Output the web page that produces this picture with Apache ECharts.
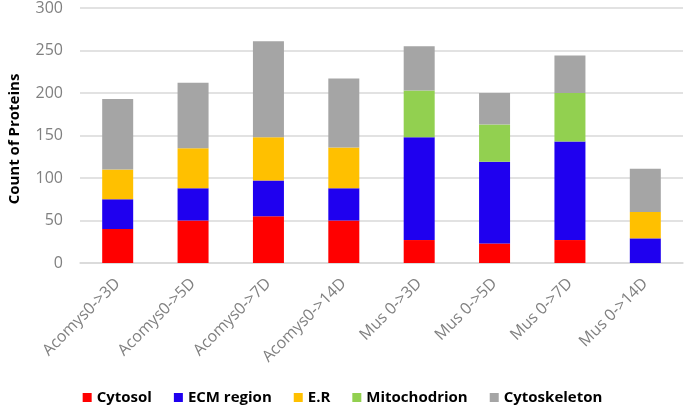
<!DOCTYPE html>
<html><head><meta charset="utf-8">
<script src="https://cdn.jsdelivr.net/npm/echarts@6/dist/echarts.min.js"></script>
<style>html,body{margin:0;padding:0;background:#fff}#c{width:685px;height:413px}</style>
</head><body><div id="c"></div>
<script>
const categories = ['Acomys0->3D','Acomys0->5D','Acomys0->7D','Acomys0->14D','Mus 0->3D','Mus 0->5D','Mus 0->7D','Mus 0->14D'];
const cytosol = [40,50,55,50,27,23,27,0];
const ecm = [35,38,42,38,121,96,116,29];
const er = [35,47,51,48,0,0,0,31];
const mito = [0,0,0,0,55,44,57,0];
const cytoskeleton = [83,77,113,81,52,37,44,51];
const yTicks = [0,50,100,150,200,250,300];

const names = ['Cytosol','ECM region','E.R','Mitochodrion','Cytoskeleton'];
const colors = ['#ff0000','#1f00ef','#ffc000','#92d050','#a5a5a5'];
const datas = [cytosol, ecm, er, mito, cytoskeleton];
const font = 'Open Sans';

const chart = echarts.init(document.getElementById('c'));
chart.setOption({
  animation:false,
  textStyle:{fontFamily:font},
  grid:{left:80,right:2,top:8,bottom:150},
  graphic:[{type:'text',x:15,y:139,rotation:Math.PI/2,
    style:{text:'Count of Proteins',fontFamily:font,fontWeight:'bold',fontSize:15,fill:'#000',
      align:'center',verticalAlign:'middle'}}],
  legend:{bottom:3,left:'center',itemWidth:9,itemHeight:9,itemGap:22,icon:'rect',
    textStyle:{fontFamily:font,fontWeight:'bold',fontSize:15,color:'#000'},
    data:names},
  xAxis:{type:'category',data:categories,
    axisLine:{lineStyle:{color:'#d9d9d9',width:1.5}},axisTick:{show:false},
    axisLabel:{rotate:45,fontSize:16,color:'#808080',margin:18,interval:0}},
  yAxis:{type:'value',min:0,max:300,interval:50,
    axisLine:{show:false},axisTick:{show:false},
    axisLabel:{fontSize:16,color:'#808080',margin:17,formatter:v=>yTicks.includes(v)?String(v):''},
    splitLine:{lineStyle:{color:'#d9d9d9',width:1.5}}},
  series:names.map((n,i)=>({name:n,type:'bar',stack:'s',barWidth:31,
    itemStyle:{color:colors[i]},data:datas[i]}))
});
</script></body></html>
